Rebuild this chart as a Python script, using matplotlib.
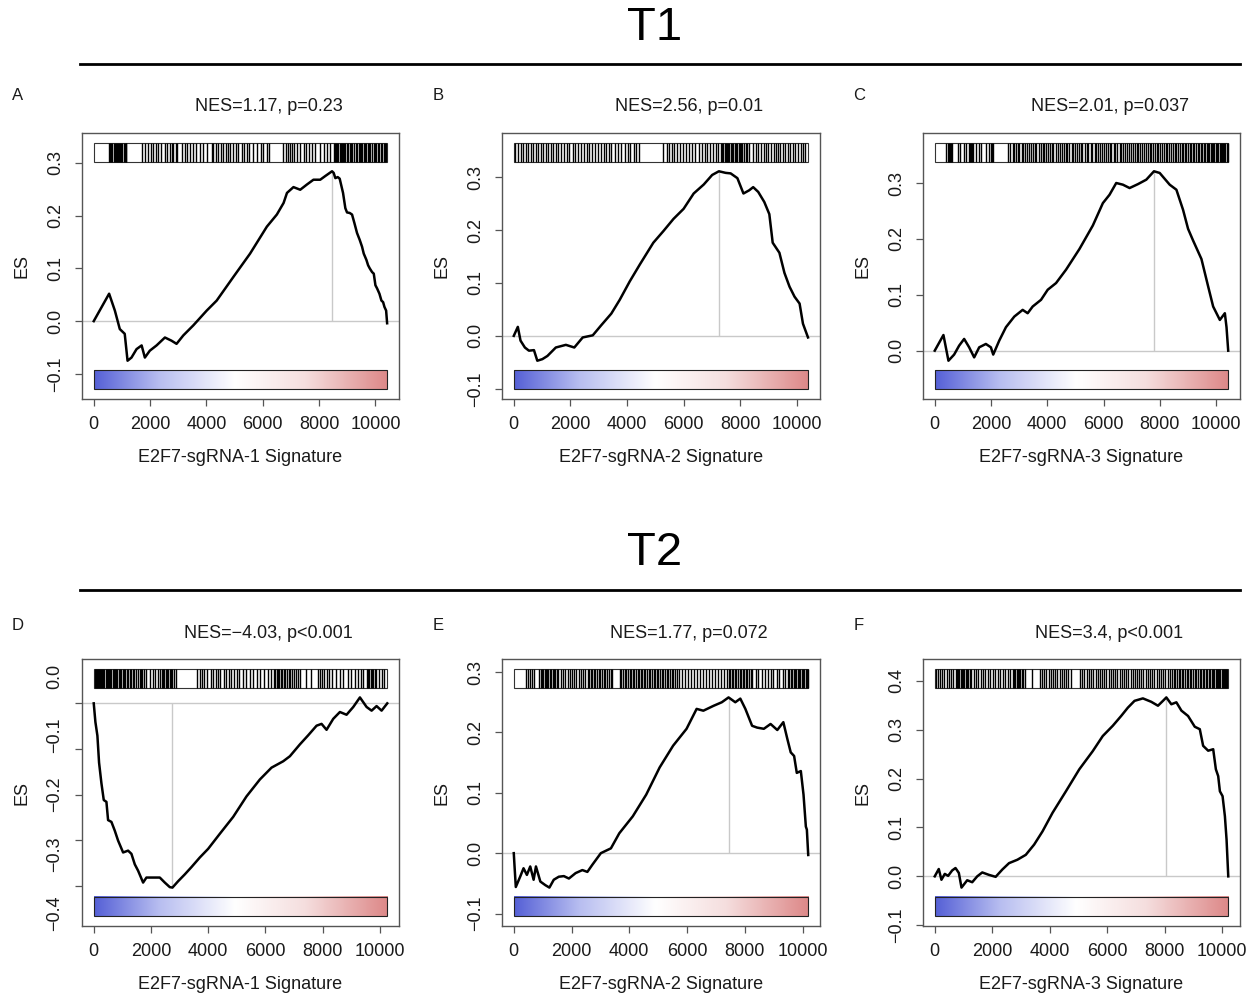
import numpy as np
import matplotlib
matplotlib.use("Agg")
import matplotlib.pyplot as plt
from matplotlib.colors import LinearSegmentedColormap
from matplotlib.patches import Rectangle
from matplotlib.lines import Line2D
from matplotlib.ticker import MultipleLocator, FuncFormatter
from matplotlib.transforms import blended_transform_factory

plt.rcParams['font.family'] = ['Liberation Sans', 'DejaVu Sans']

# ---------------- running enrichment score curves ----------------
a_rank = [0, 546, 750, 925, 1100, 1200, 1340, 1520, 1700, 1815, 1990, 2230, 2527, 2760, 2940,
          3180, 3535, 4010, 4365, 4960, 5550, 6145, 6500, 6740, 6860, 7090, 7330, 7570, 7800,
          8040, 8220, 8460, 8517, 8577, 8660, 8731, 8850, 8932, 8992, 9087, 9170, 9253, 9347,
          9442, 9525, 9585, 9680, 9739, 9798, 9881, 9941, 10000, 10059, 10142, 10213, 10273,
          10320, 10380, 10415]
a_es = [0.0, 0.052, 0.020, -0.015, -0.024, -0.075, -0.069, -0.053, -0.046, -0.069, -0.056,
        -0.046, -0.031, -0.037, -0.043, -0.027, -0.008, 0.020, 0.039, 0.084, 0.128, 0.179,
        0.202, 0.224, 0.243, 0.254, 0.249, 0.259, 0.268, 0.268, 0.275, 0.284, 0.281, 0.271,
        0.273, 0.270, 0.243, 0.214, 0.206, 0.205, 0.202, 0.186, 0.167, 0.154, 0.141, 0.128,
        0.116, 0.106, 0.100, 0.093, 0.090, 0.068, 0.062, 0.052, 0.039, 0.036, 0.027, 0.020,
        -0.004]

b_rank = [0, 143, 238, 392, 535, 713, 831, 1010, 1188, 1485, 1840, 2138, 2435, 2790, 3088,
          3444, 3741, 4097, 4454, 4929, 5285, 5641, 5998, 6354, 6710, 7007, 7245, 7482, 7660,
          7898, 8112, 8314, 8456, 8634, 8848, 9026, 9145, 9382, 9560, 9739, 9917, 10095, 10214,
          10392]
b_es = [0.0, 0.017, -0.009, -0.022, -0.028, -0.027, -0.047, -0.044, -0.038, -0.022, -0.017,
        -0.022, -0.003, 0.001, 0.020, 0.042, 0.068, 0.103, 0.135, 0.176, 0.198, 0.221, 0.240,
        0.269, 0.286, 0.304, 0.311, 0.308, 0.307, 0.298, 0.269, 0.275, 0.281, 0.272, 0.253,
        0.230, 0.176, 0.157, 0.119, 0.093, 0.074, 0.061, 0.023, -0.003]

c_rank = [0, 309, 487, 689, 867, 1045, 1223, 1401, 1580, 1817, 1995, 2078, 2292, 2530, 2827,
          3124, 3302, 3480, 3777, 4014, 4311, 4667, 5143, 5618, 5974, 6211, 6449, 6686, 6924,
          7221, 7518, 7791, 7993, 8349, 8587, 8824, 9002, 9181, 9477, 9715, 9893, 10131, 10309,
          10368, 10428]
c_es = [0.0, 0.028, -0.018, -0.007, 0.009, 0.021, 0.006, -0.012, 0.006, 0.012, 0.006, -0.007,
        0.018, 0.042, 0.061, 0.073, 0.067, 0.079, 0.091, 0.109, 0.121, 0.145, 0.182, 0.224,
        0.264, 0.279, 0.300, 0.297, 0.291, 0.298, 0.306, 0.321, 0.318, 0.297, 0.288, 0.252,
        0.218, 0.197, 0.164, 0.115, 0.079, 0.055, 0.067, 0.042, 0.0]

d_rank = [0, 58, 128, 186, 268, 350, 443, 501, 618, 734, 851, 1026, 1200, 1317, 1434, 1550,
          1725, 1841, 2075, 2308, 2483, 2657, 2750, 2949, 3182, 3415, 3706, 3998, 4406, 4872,
          5338, 5804, 6212, 6620, 6853, 7203, 7494, 7786, 7960, 8135, 8368, 8601, 8834, 9068,
          9301, 9534, 9709, 9883, 10058, 10256]
d_es = [0.0, -0.041, -0.071, -0.130, -0.175, -0.212, -0.216, -0.256, -0.260, -0.279, -0.301,
        -0.327, -0.323, -0.330, -0.353, -0.367, -0.393, -0.382, -0.382, -0.382, -0.393, -0.403,
        -0.404, -0.390, -0.375, -0.359, -0.338, -0.319, -0.286, -0.249, -0.204, -0.167, -0.141,
        -0.127, -0.116, -0.090, -0.070, -0.049, -0.045, -0.058, -0.034, -0.019, -0.025, -0.008,
        0.013, -0.008, -0.016, -0.006, -0.016, 0.0]

e_rank = [0, 23, 70, 221, 338, 454, 570, 687, 768, 920, 1094, 1234, 1385, 1560, 1735, 1909,
          2142, 2375, 2549, 2724, 3015, 3364, 3655, 4121, 4587, 5052, 5518, 5984, 6333, 6566,
          6915, 7206, 7439, 7672, 7846, 8021, 8254, 8428, 8661, 8894, 9127, 9336, 9476, 9592,
          9709, 9802, 9942, 10035, 10116, 10151, 10198]
e_es = [0.0, -0.019, -0.056, -0.039, -0.025, -0.036, -0.022, -0.044, -0.022, -0.047, -0.053,
        -0.057, -0.044, -0.039, -0.038, -0.042, -0.033, -0.028, -0.031, -0.019, 0.0, 0.008,
        0.033, 0.061, 0.097, 0.142, 0.178, 0.206, 0.239, 0.236, 0.244, 0.250, 0.258, 0.250,
        0.256, 0.239, 0.211, 0.208, 0.206, 0.214, 0.204, 0.217, 0.189, 0.167, 0.161, 0.133,
        0.136, 0.097, 0.044, 0.039, -0.003]

f_rank = [0, 140, 233, 349, 466, 605, 722, 838, 931, 1129, 1304, 1478, 1653, 1886, 2119, 2352,
          2584, 2876, 3167, 3458, 3749, 4098, 4563, 5029, 5495, 5844, 6193, 6484, 6717, 6950,
          7241, 7532, 7765, 7939, 8056, 8230, 8405, 8580, 8812, 9045, 9220, 9336, 9511, 9686,
          9779, 9860, 9919, 10012, 10093, 10151, 10210]
f_es = [0.0, 0.015, -0.007, 0.005, 0.001, 0.012, 0.017, 0.007, -0.023, -0.008, -0.012, 0.0,
        0.008, 0.003, -0.001, 0.014, 0.027, 0.034, 0.044, 0.065, 0.092, 0.130, 0.174, 0.219,
        0.256, 0.287, 0.308, 0.328, 0.345, 0.359, 0.364, 0.357, 0.349, 0.359, 0.366, 0.352,
        0.356, 0.339, 0.328, 0.306, 0.301, 0.267, 0.257, 0.260, 0.219, 0.205, 0.174, 0.164,
        0.123, 0.075, 0.0]

# ---------------- gene-set hit ranks (barcode) ----------------
a_hits = [546, 580, 629, 660, 712, 740, 783, 820, 866, 900, 949, 980, 1020, 1060, 1103, 1130,
          1162, 1696, 1815, 1933, 2016, 2111, 2206, 2289, 2372, 2526, 2609, 2704, 2763, 2823,
          2918, 2965, 3119, 3238, 3321, 3416, 3534, 3629, 3771, 3890, 4009, 4187, 4246, 4341,
          4424, 4507, 4602, 4697, 4780, 4839, 4957, 5052, 5135, 5254, 5337, 5432, 5527, 5669,
          5788, 5930, 6025, 6143, 6238, 6736, 6831, 6879, 6974, 7033, 7116, 7211, 7329, 7448,
          7543, 7626, 7745, 7863, 8041, 8160, 8278, 8397, 8515, 8560, 8600, 8634, 8680, 8729,
          8776, 8800, 8848, 8880, 8930, 8990, 9040, 9085, 9120, 9168, 9251, 9300, 9346, 9400,
          9440, 9480, 9523, 9583, 9630, 9678, 9720, 9760, 9820, 9880, 9939, 9990, 10034, 10080,
          10117, 10200, 10250, 10294, 10353, 10390]
b_hits = [59, 154, 238, 321, 416, 511, 594, 677, 772, 867, 950, 1033, 1128, 1223, 1306, 1389,
          1484, 1579, 1663, 1781, 1864, 1959, 2078, 2173, 2256, 2375, 2494, 2577, 2672, 2767,
          2886, 2969, 3088, 3171, 3266, 3361, 3444, 3563, 3681, 3800, 3919, 4038, 4121, 4239,
          4334, 4429, 5284, 5403, 5498, 5581, 5664, 5759, 5878, 5973, 6092, 6175, 6294, 6413,
          6531, 6650, 6769, 6828, 6947, 7042, 7125, 7208, 7303, 7350, 7398, 7450, 7481, 7520,
          7564, 7600, 7659, 7700, 7754, 7800, 7838, 7897, 7940, 7992, 8030, 8075, 8130, 8194,
          8250, 8313, 8467, 8550, 8633, 8728, 8823, 8906, 8989, 9084, 9179, 9263, 9346, 9417,
          9500, 9583, 9678, 9773, 9856, 9939, 10034, 10129, 10213, 10296]
c_hits = [415, 455, 500, 540, 585, 625, 830, 880, 1050, 1120, 1230, 1260, 1300, 1330, 1360,
          1480, 1570, 1640, 1820, 1940, 1990, 2030, 2080, 2620, 2690, 2770, 2830, 2880, 2960,
          3010, 3090, 3150, 3210, 3290, 3340, 3420, 3500, 3550, 3610, 3700, 3760, 3830, 3880,
          3960, 4040, 4090, 4170, 4220, 4300, 4390, 4440, 4510, 4590, 4650, 4700, 4780, 4860,
          4910, 4980, 5050, 5130, 5190, 5250, 5330, 5400, 5460, 5540, 5600, 5680, 5730, 5800,
          5880, 5940, 6010, 6070, 6150, 6220, 6280, 6360, 6420, 6490, 6570, 6620, 6700, 6770,
          6830, 6900, 6980, 7040, 7100, 7180, 7240, 7310, 7380, 7430, 7510, 7570, 7640, 7700,
          7760, 7830, 7890, 7950, 8020, 8080, 8140, 8210, 8270, 8330, 8400, 8460, 8520, 8580,
          8640, 8700, 8770, 8830, 8880, 8940, 9000, 9060, 9120, 9170, 9230, 9290, 9340, 9400,
          9450, 9510, 9560, 9610, 9660, 9710, 9750, 9800, 9850, 9890, 9940, 9980, 10030, 10070,
          10120, 10160, 10200, 10250, 10290, 10330, 10370, 10410]
d_hits = [30, 75, 110, 150, 190, 215, 260, 300, 330, 370, 420, 455, 500, 540, 575, 610, 660,
          700, 735, 790, 830, 880, 920, 960, 1010, 1060, 1100, 1150, 1210, 1250, 1310, 1370,
          1420, 1480, 1540, 1600, 1660, 1700, 1760, 1820, 1950, 2060, 2150, 2230, 2300, 2380,
          2430, 2470, 2520, 2560, 2610, 2650, 2700, 2740, 2800, 2860, 3620, 3700, 3790, 3850,
          3960, 4080, 4150, 4260, 4330, 4420, 4540, 4610, 4720, 4810, 4890, 4990, 5080, 5200,
          5330, 5470, 5560, 5700, 5820, 5950, 6080, 6180, 6290, 6340, 6390, 6430, 6480, 6530,
          6590, 6640, 6700, 6750, 6810, 6870, 6930, 6990, 7060, 7130, 7190, 7420, 7600, 7820,
          7900, 7990, 8060, 8150, 8230, 8320, 8450, 8600, 8720, 8900, 9000, 9120, 9230, 9330,
          9420, 9540, 9590, 9630, 9680, 9720, 9770, 9820, 9870, 9950, 10080, 10150]
e_hits = [410, 480, 545, 620, 690, 880, 930, 975, 1020, 1065, 1110, 1160, 1200, 1250, 1300,
          1345, 1390, 1440, 1490, 1540, 1630, 1720, 1790, 1870, 1940, 2020, 2100, 2170, 2260,
          2330, 2410, 2480, 2560, 2610, 2660, 2720, 2770, 2830, 2880, 2940, 2990, 3050, 3110,
          3170, 3230, 3290, 3350, 3400, 3680, 3730, 3790, 3840, 3900, 3950, 4010, 4060, 4120,
          4170, 4230, 4290, 4340, 4400, 4450, 4510, 4560, 4620, 4680, 4730, 4790, 4840, 4900,
          4960, 5010, 5070, 5130, 5180, 5240, 5300, 5350, 5410, 5470, 5530, 5590, 5650, 5720,
          5830, 5920, 6040, 6130, 6250, 6330, 6450, 6540, 6660, 6760, 6850, 6970, 7080, 7170,
          7290, 7390, 7440, 7490, 7550, 7600, 7650, 7710, 7760, 7820, 7870, 7930, 7980, 8040,
          8090, 8150, 8210, 8260, 8380, 8470, 8580, 8700, 8790, 8900, 8990, 9110, 9200, 9310,
          9400, 9490, 9540, 9590, 9640, 9690, 9730, 9780, 9830, 9870, 9920, 9970, 10010, 10060,
          10110, 10150, 10190]
f_hits = [40, 115, 190, 265, 330, 420, 500, 575, 650, 730, 770, 815, 850, 900, 945, 985, 1030,
          1080, 1125, 1165, 1215, 1260, 1350, 1440, 1500, 1600, 1690, 1760, 1850, 1935, 2020,
          2110, 2190, 2280, 2370, 2460, 2540, 2620, 2710, 2755, 2800, 2845, 2890, 2935, 2980,
          3030, 3080, 3130, 3400, 3660, 3735, 3810, 3880, 3965, 4030, 4110, 4190, 4265, 4340,
          4420, 4500, 4570, 4650, 4730, 5050, 5130, 5200, 5290, 5360, 5440, 5510, 5600, 5670,
          5750, 5820, 5900, 5970, 6050, 6130, 6200, 6280, 6350, 6430, 6510, 6580, 6660, 6730,
          6810, 6880, 6960, 7040, 7110, 7190, 7260, 7340, 7410, 7490, 7560, 7640, 7720, 7790,
          7870, 7940, 8020, 8100, 8170, 8250, 8310, 8370, 8420, 8480, 8540, 8590, 8650, 8700,
          8760, 8820, 8870, 8930, 8980, 9040, 9100, 9150, 9210, 9260, 9320, 9370, 9430, 9480,
          9540, 9590, 9640, 9690, 9730, 9780, 9820, 9860, 9900, 9940, 9980, 10020, 10060, 10100,
          10140, 10180]

# list sizes (ranked genes)
n_genes = [10420, 10400, 10430, 10256, 10198, 10210]

letters = ['A', 'B', 'C', 'D', 'E', 'F']
titles = ['NES=1.17, p=0.23', 'NES=2.56, p=0.01', 'NES=2.01, p=0.037',
          'NES=\u22124.03, p<0.001', 'NES=1.77, p=0.072', 'NES=3.4, p<0.001']
xlabels = ['E2F7-sgRNA-1 Signature', 'E2F7-sgRNA-2 Signature', 'E2F7-sgRNA-3 Signature'] * 2
sections = ['T1', 'T2']

ranks = [a_rank, b_rank, c_rank, d_rank, e_rank, f_rank]
scores = [a_es, b_es, c_es, d_es, e_es, f_es]
hits = [a_hits, b_hits, c_hits, d_hits, e_hits, f_hits]

# spread of the y tick labels around their middle (panel D's labels sit wider apart)
label_spread = [1.0, 1.0, 1.0, 1.3, 1.0, 1.0]

W, H = 1254, 997
fig = plt.figure(figsize=(W / 100, H / 100), dpi=100)

cmap = LinearSegmentedColormap.from_list(
    'rank_metric', [(0.0, '#5560d6'), (0.22, '#b7bdf0'), (0.48, '#ffffff'),
                    (0.72, '#f5dede'), (1.0, '#dd8888')])

# axes boxes in pixels: (left, top, right, bottom)
col_left = [82, 502, 923]
col_right = [399, 820, 1240]
row_top = [133, 659]
row_bottom = [399, 926]

def fmt_y(v, _=None):
    s = '%.1f' % v
    if s == '-0.0':
        s = '0.0'
    return s.replace('-', '\u2212')

for i in range(6):
    row, col = divmod(i, 3)
    l, r = col_left[col], col_right[col]
    t, b = row_top[row], row_bottom[row]
    ax = fig.add_axes([l / W, 1 - b / H, (r - l) / W, (b - t) / H])
    rk = np.asarray(ranks[i], float)
    es = np.asarray(scores[i], float)
    n = n_genes[i]

    hi, lo = es.max(), es.min()
    span = hi - lo
    bar_lo, bar_hi = hi + 0.05 * span, hi + 0.15 * span
    cb_hi, cb_lo = lo - 0.05 * span, lo - 0.15 * span

    ax.axhline(0, color='#c9c9c9', lw=1.0, zorder=1)
    k = int(np.argmax(np.abs(es)))
    ax.vlines(rk[k], 0, es[k], color='#c9c9c9', lw=1.0, zorder=1)
    ax.plot(rk, es, color='black', lw=1.8, zorder=3, solid_joinstyle='round')

    ax.add_patch(Rectangle((0, bar_lo), n, bar_hi - bar_lo, facecolor='white',
                           edgecolor='#333333', lw=0.8, zorder=2))
    ax.vlines(hits[i], bar_lo, bar_hi, color='black', lw=1.0, zorder=3)

    grad = np.linspace(0, 1, 512)[None, :]
    ax.imshow(grad, extent=[0, n, cb_lo, cb_hi], aspect='auto', cmap=cmap,
              origin='lower', zorder=2, interpolation='bilinear')
    ax.add_patch(Rectangle((0, cb_lo), n, cb_hi - cb_lo, fill=False,
                           edgecolor='#222222', lw=0.8, zorder=3))

    ax.set_xlim(-0.04 * n, 1.04 * n)
    full = bar_hi - cb_lo
    y0, y1 = cb_lo - 0.04 * full, bar_hi + 0.04 * full
    ax.set_ylim(y0, y1)

    ax.xaxis.set_major_locator(MultipleLocator(2000))
    ax.yaxis.set_major_locator(MultipleLocator(0.1))
    ax.yaxis.set_major_formatter(FuncFormatter(fmt_y))
    for s in ax.spines.values():
        s.set_color('#555555')
        s.set_linewidth(1.0)
    ax.tick_params(axis='both', direction='out', length=5, width=0.9, color='#555555',
                   labelsize=13, labelcolor='#1a1a1a')
    ax.tick_params(axis='x', pad=7)
    ax.tick_params(axis='y', pad=8, labelrotation=90)
    for tk in ax.yaxis.get_major_ticks():
        tk.label1.set_verticalalignment('center')

    if label_spread[i] != 1.0:
        ticks = [v for v in ax.get_yticks() if y0 <= v <= y1]
        mid = float(np.mean(ticks))
        ax.tick_params(axis='y', labelleft=False)
        trans = blended_transform_factory(ax.transAxes, ax.transData)
        for v in ticks:
            ax.text(-27 / (r - l), mid + label_spread[i] * (v - mid), fmt_y(v),
                    transform=trans, rotation=90, ha='center', va='center',
                    fontsize=13, color='#1a1a1a')

    ax.set_xlabel(xlabels[i], fontsize=13, color='#1a1a1a', va='center')
    ax.xaxis.set_label_coords(0.5, -58 / (b - t))
    ax.set_ylabel('ES', fontsize=13, color='#1a1a1a', va='center')
    ax.yaxis.set_label_coords(-60 / (r - l), 0.5)

    letter_dy = 38 if row == 0 else 34
    title_dy = 27 if row == 0 else 26
    ax.text(-64 / (r - l), 1 + letter_dy / (b - t), letters[i], transform=ax.transAxes,
            ha='center', va='center', fontsize=12, color='#1a1a1a')
    ax.text(0.5 + 28 / (r - l), 1 + title_dy / (b - t), titles[i], transform=ax.transAxes,
            ha='center', va='center', fontsize=13, color='#1a1a1a')

# section headers with rules
for txt, ty, ly in zip(sections, [28, 553], [64, 590]):
    fig.text(655 / W, 1 - ty / H, txt, ha='center', va='center', fontsize=34)
    fig.add_artist(Line2D([80 / W, 1240 / W], [1 - ly / H, 1 - ly / H],
                          color='black', lw=2.0))

fig.savefig('out.png', dpi=100, facecolor='white')
